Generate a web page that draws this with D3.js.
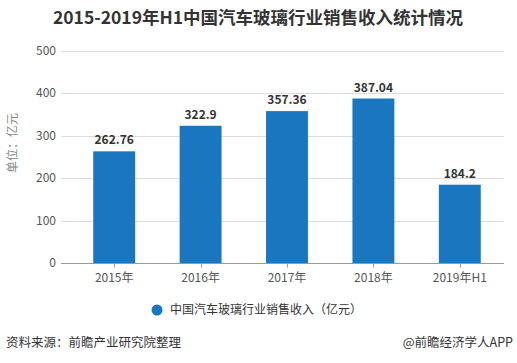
<!DOCTYPE html>
<html>
<head>
<meta charset="utf-8">
<script src="https://cdn.jsdelivr.net/npm/d3@7"></script>
<style>
  body { margin: 0; background: #fff; }
  text { font-family: "Microsoft YaHei", "Noto Sans CJK SC", sans-serif; }
</style>
</head>
<body>
<div id="chart"></div>
<script>
const categories = ['2015年', '2016年', '2017年', '2018年', '2019年H1']
const values = [262.76, 322.9, 357.36, 387.04, 184.2]
const yTicks = [0, 100, 200, 300, 400, 500]

const width = 517
const height = 363
const margin = { left: 71, right: 14, top: 50.5, bottom: 100 }

const svg = d3.select('#chart')
  .append('svg')
  .attr('width', width)
  .attr('height', height)

const x = d3.scaleBand()
  .domain(categories)
  .range([margin.left, width - margin.right])
  .paddingInner(0.515)
  .paddingOuter(0.2575)

const y = d3.scaleLinear()
  .domain([0, 500])
  .range([height - margin.bottom, margin.top])

// title
svg.append('text')
  .attr('x', 258)
  .attr('y', 24)
  .attr('text-anchor', 'middle')
  .attr('font-size', 17.5)
  .attr('font-weight', 'bold')
  .attr('fill', '#333')
  .text('2015-2019年H1中国汽车玻璃行业销售收入统计情况')

// grid
svg.append('g')
  .selectAll('line')
  .data(yTicks.filter(d => d > 0))
  .join('line')
  .attr('x1', 61)
  .attr('x2', 504)
  .attr('y1', d => Math.round(y(d)) + 0.5)
  .attr('y2', d => Math.round(y(d)) + 0.5)
  .attr('stroke', '#dcdcdc')

// y axis labels
svg.append('g')
  .selectAll('text')
  .data(yTicks)
  .join('text')
  .attr('x', 56)
  .attr('y', d => y(d))
  .attr('dy', '0.35em')
  .attr('text-anchor', 'end')
  .attr('font-size', 12)
  .attr('fill', '#555')
  .text(d => d)

svg.append('text')
  .attr('transform', 'translate(17, 143) rotate(-90)')
  .attr('text-anchor', 'middle')
  .attr('font-size', 12)
  .attr('fill', '#888')
  .text('单位：亿元')

// bars
svg.append('g')
  .selectAll('rect')
  .data(values)
  .join('rect')
  .attr('x', (d, i) => x(categories[i]))
  .attr('width', x.bandwidth())
  .attr('y', d => y(d))
  .attr('height', d => y(0) - y(d))
  .attr('fill', '#1a76be')

svg.append('g')
  .selectAll('text')
  .data(values)
  .join('text')
  .attr('x', (d, i) => x(categories[i]) + x.bandwidth() / 2)
  .attr('y', d => y(d) - 7)
  .attr('text-anchor', 'middle')
  .attr('font-size', 12)
  .attr('font-weight', 'bold')
  .attr('fill', '#333')
  .text(d => d)

// x axis
const xAxis = svg.append('g')
  .attr('transform', `translate(0, ${Math.round(y(0)) + 0.5})`)

xAxis.append('line')
  .attr('x1', 61)
  .attr('x2', 504)
  .attr('stroke', '#999')

xAxis.selectAll('.tick')
  .data(categories)
  .join('line')
  .attr('class', 'tick')
  .attr('x1', d => Math.round(x(d) + x.bandwidth() / 2) + 0.5)
  .attr('x2', d => Math.round(x(d) + x.bandwidth() / 2) + 0.5)
  .attr('y1', 0)
  .attr('y2', 4)
  .attr('stroke', '#999')

xAxis.selectAll('.label')
  .data(categories)
  .join('text')
  .attr('class', 'label')
  .attr('x', d => x(d) + x.bandwidth() / 2)
  .attr('y', 18)
  .attr('text-anchor', 'middle')
  .attr('font-size', 12)
  .attr('fill', '#555')
  .text(d => d)

// legend
svg.append('circle')
  .attr('cx', 157)
  .attr('cy', 310)
  .attr('r', 5.5)
  .attr('fill', '#1a76be')

svg.append('text')
  .attr('x', 170)
  .attr('y', 314)
  .attr('font-size', 12)
  .attr('fill', '#333')
  .text('中国汽车玻璃行业销售收入（亿元）')

// footer
svg.append('text')
  .attr('x', 6)
  .attr('y', 347)
  .attr('font-size', 12.5)
  .attr('fill', '#333')
  .text('资料来源：前瞻产业研究院整理')

svg.append('text')
  .attr('x', 513)
  .attr('y', 347)
  .attr('text-anchor', 'end')
  .attr('font-size', 12.5)
  .attr('fill', '#333')
  .text('@前瞻经济学人APP')
</script>
</body>
</html>
